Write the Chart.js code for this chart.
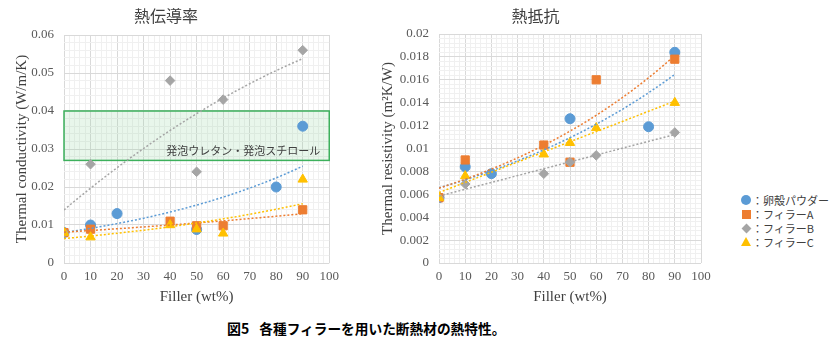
<!DOCTYPE html>
<html>
<head>
<meta charset="utf-8">
<script src="https://cdn.jsdelivr.net/npm/chart.js@4.4.1/dist/chart.umd.min.js"></script>
<style>
  body { margin: 0; background: #fff; width: 840px; height: 348px; position: relative; overflow: hidden; }
  canvas { position: absolute; top: 0; }
  #kChart { left: 0; }
  #rChart { left: 370px; }
  #legend { position: absolute; left: 740px; top: 193px; font: 11px "Noto Sans CJK JP", sans-serif; color: #404040; }
  .row { display: flex; align-items: center; height: 14px; }
  .mk { width: 12px; height: 14px; position: relative; }
  .mk i { position: absolute; left: 50%; top: 50%; display: block; }
  #caption { position: absolute; left: 227px; top: 318px; font: bold 13.7px "Noto Sans CJK JP", sans-serif; color: #000; white-space: nowrap; }
  #caption span { margin-right: 10px; font-size: 14px; }
</style>
</head>
<body>
<canvas id="kChart" width="345" height="310"></canvas>
<canvas id="rChart" width="350" height="310"></canvas>
<div id="legend"></div>
<div id="caption"><span>図5</span>各種フィラーを用いた断熱材の熱特性。</div>
<script>
// ==============================
//  DATA
// ==============================
const SERIES_NAMES = ['卵殻パウダー', 'フィラーA', 'フィラーB', 'フィラーC'];
const COLORS = ['#5B9BD5', '#ED7D31', '#A5A5A5', '#FFC000'];
const STYLES = ['circle', 'rect', 'rectRot', 'triangle'];
const RADII = [5, 5.8, 4.8, 5.4];

const X_EGG    = [0, 10, 20, 50, 80, 90];
const X_FILLER = [0, 10, 40, 50, 60, 90];

// thermal conductivity (W/m/K)
const K_EGG = [0.008, 0.010, 0.013, 0.0088, 0.020, 0.036];
const K_A   = [0.008, 0.0089, 0.011, 0.0098, 0.0098, 0.014];
const K_B   = [0.008, 0.026, 0.048, 0.024, 0.043, 0.056];
const K_C   = [0.008, 0.0068, 0.010, 0.0089, 0.0078, 0.022];

// thermal resistivity (m2K/W)
const R_EGG = [0.0057, 0.0084, 0.0078, 0.0126, 0.0119, 0.0184];
const R_A   = [0.0057, 0.0090, 0.0103, 0.0088, 0.0160, 0.0178];
const R_B   = [0.0057, 0.0069, 0.0078, 0.0088, 0.0094, 0.0114];
const R_C   = [0.0057, 0.0076, 0.0095, 0.0105, 0.0118, 0.0140];

// trendline type per series (as in the spreadsheet)
const K_TREND = ['exp', 'exp', 'poly2', 'exp'];
const R_TREND = ['exp', 'exp', 'linear', 'linear'];

const X_TICKS = [0, 10, 20, 30, 40, 50, 60, 70, 80, 90, 100];
const K_TICKS = [0, 0.01, 0.02, 0.03, 0.04, 0.05, 0.06];
const R_TICKS = [0, 0.002, 0.004, 0.006, 0.008, 0.01, 0.012, 0.014, 0.016, 0.018, 0.02];

const FOAM_BAND  = [0.027, 0.04];
const FOAM_LABEL = '発泡ウレタン・発泡スチロール';

// ==============================
//  HELPERS
// ==============================
function isMajor(v, list) { return list.some(t => Math.abs(t - v) < 1e-9); }
function fmt(v) { return String(+v.toFixed(4)); }

function solve3(m, r) {
  // gaussian elimination for 3x3
  const a = m.map((row, i) => [...row, r[i]]);
  for (let i = 0; i < 3; i++) {
    for (let j = i + 1; j < 3; j++) {
      const f = a[j][i] / a[i][i];
      for (let k = i; k < 4; k++) a[j][k] -= f * a[i][k];
    }
  }
  const s = [0, 0, 0];
  for (let i = 2; i >= 0; i--) {
    let t = a[i][3];
    for (let k = i + 1; k < 3; k++) t -= a[i][k] * s[k];
    s[i] = t / a[i][i];
  }
  return s;
}

function fitLine(xs, ys) {
  const n = xs.length;
  const mx = xs.reduce((a, b) => a + b, 0) / n;
  const my = ys.reduce((a, b) => a + b, 0) / n;
  let sxx = 0, sxy = 0;
  xs.forEach((x, i) => { sxx += (x - mx) ** 2; sxy += (x - mx) * (ys[i] - my); });
  const b = sxy / sxx;
  return [my - b * mx, b];
}

function fitTrend(type, xs, ys) {
  if (type === 'exp') {
    const [a, b] = fitLine(xs, ys.map(Math.log));
    return x => Math.exp(a + b * x);
  }
  if (type === 'poly2') {
    const S = p => xs.reduce((s, x) => s + x ** p, 0);
    const T = p => xs.reduce((s, x, i) => s + x ** p * ys[i], 0);
    const [a, b, c] = solve3(
      [[S(0), S(1), S(2)], [S(1), S(2), S(3)], [S(2), S(3), S(4)]],
      [T(0), T(1), T(2)]
    );
    return x => a + b * x + c * x * x;
  }
  const [a, b] = fitLine(xs, ys);
  return x => a + b * x;
}

function buildDatasets(xsList, ysList, trends) {
  const points = ysList.map((ys, i) => ({
    label: SERIES_NAMES[i],
    data: xsList[i].map((x, j) => ({ x, y: ys[j] })),
    pointStyle: STYLES[i],
    pointRadius: RADII[i],
    backgroundColor: COLORS[i],
    borderColor: COLORS[i],
    borderWidth: 1,
    showLine: false,
    order: 10 - i,
  }));
  const lines = ysList.map((ys, i) => {
    const xs = xsList[i];
    const f = fitTrend(trends[i], xs, ys);
    const xmax = Math.max(...xs);
    const data = [];
    for (let x = 0; x <= xmax; x++) data.push({ x, y: f(x) });
    return {
      label: 'trend' + i,
      data,
      showLine: true,
      pointRadius: 0,
      borderColor: COLORS[i],
      borderWidth: 1.5,
      borderDash: [2, 2],
      fill: false,
      order: 5 - i,
    };
  });
  return [...points, ...lines];
}

const foamBand = {
  id: 'foamBand',
  beforeDatasetsDraw(chart) {
    if (chart.canvas.id !== 'kChart') return;
    const { ctx, scales: { x, y } } = chart;
    const l = x.getPixelForValue(0), r = x.getPixelForValue(100);
    const t = y.getPixelForValue(FOAM_BAND[1]), b = y.getPixelForValue(FOAM_BAND[0]);
    ctx.save();
    ctx.fillStyle = 'rgba(150, 215, 165, 0.22)';
    ctx.fillRect(l, t, r - l, b - t);
    ctx.strokeStyle = '#3DB05C';
    ctx.lineWidth = 1.5;
    ctx.strokeRect(l, t, r - l, b - t);
    ctx.fillStyle = '#404040';
    ctx.font = '11px "Noto Sans CJK JP"';
    ctx.textAlign = 'right';
    ctx.textBaseline = 'middle';
    ctx.fillText(FOAM_LABEL, r - 9, b - 10);
    ctx.restore();
  }
};

// ==============================
//  CHARTS
// ==============================
Chart.defaults.font.family = '"Liberation Serif", "Times New Roman", serif';
Chart.defaults.color = '#595959';

function makeChart(id, cfg) {
  return new Chart(document.getElementById(id), {
    type: 'scatter',
    data: { datasets: cfg.datasets },
    plugins: [foamBand],
    options: {
      responsive: false,
      animation: false,
      layout: { padding: { left: 0, right: cfg.padRight, top: 0, bottom: 0 } },
      plugins: {
        legend: { display: false },
        tooltip: { enabled: false },
        title: {
          display: true,
          text: cfg.title,
          color: '#404040',
          font: { family: '"Noto Sans CJK JP", sans-serif', size: 16, weight: 'normal' },
          padding: { top: 6, bottom: cfg.titleGap },
        },
      },
      scales: {
        x: {
          type: 'linear', min: 0, max: 100,
          ticks: {
            stepSize: 2, autoSkip: false, maxRotation: 0, padding: 6, font: { size: 13 },
            callback: v => isMajor(v, X_TICKS) ? String(v) : '',
          },
          grid: { color: c => isMajor(c.tick.value, X_TICKS) ? '#D9D9D9' : '#F0F0F0', drawTicks: false },
          border: { display: false },
          title: { display: true, text: 'Filler (wt%)', color: '#404040', font: { size: 15 }, padding: { top: 0, bottom: 4 } },
          afterFit: s => { s.height = 47; },
        },
        y: {
          type: 'linear', min: 0, max: cfg.ymax,
          ticks: {
            stepSize: cfg.minor, autoSkip: false, padding: 10, font: { size: 13 },
            callback: v => isMajor(v, cfg.ticks) ? fmt(v) : '',
          },
          grid: { color: c => isMajor(c.tick.value, cfg.ticks) ? '#D9D9D9' : '#F0F0F0', drawTicks: false },
          border: { display: false },
          title: { display: true, text: cfg.ytitle, color: '#404040', font: { size: 15 }, padding: { top: cfg.ytitlePad, bottom: 0 } },
          afterFit: s => { s.width = cfg.yw; },
        },
      },
    },
  });
}

makeChart('kChart', {
  datasets: buildDatasets([X_EGG, X_FILLER, X_FILLER, X_FILLER], [K_EGG, K_A, K_B, K_C], K_TREND),
  title: '熱伝導率', titleGap: 9.8, padRight: 13,
  ymax: 0.06, minor: 0.002, ticks: K_TICKS,
  ytitle: 'Thermal conductivity (W/m/K)', ytitlePad: 13, yw: 64,
});

makeChart('rChart', {
  datasets: buildDatasets([X_EGG, X_FILLER, X_FILLER, X_FILLER], [R_EGG, R_A, R_B, R_C], R_TREND),
  title: '熱抵抗', titleGap: 8.8, padRight: 19,
  ymax: 0.02, minor: 0.0004, ticks: R_TICKS,
  ytitle: 'Thermal resistivity (m²K/W)', ytitlePad: 9, yw: 69,
});

// ==============================
//  LEGEND
// ==============================
const MARKER_CSS = [
  'width:10px;height:10px;margin:-5px 0 0 -5px;border-radius:50%;',
  'width:9px;height:9px;margin:-4.5px 0 0 -4.5px;',
  'width:7px;height:7px;margin:-3.5px 0 0 -3.5px;transform:rotate(45deg);',
  'width:0;height:0;margin:-5px 0 0 -5.5px;border-left:5.5px solid transparent;border-right:5.5px solid transparent;',
];
document.getElementById('legend').innerHTML = SERIES_NAMES.map((name, i) => {
  const fill = i === 3 ? `border-bottom:9.5px solid ${COLORS[i]};` : `background:${COLORS[i]};`;
  return `<div class="row"><div class="mk"><i style="${MARKER_CSS[i]}${fill}"></i></div><span>：${name}</span></div>`;
}).join('');
</script>
</body>
</html>
